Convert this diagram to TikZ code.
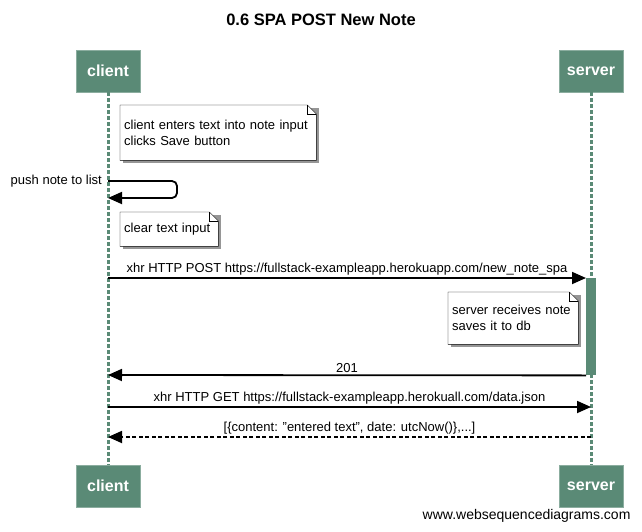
\documentclass[tikz,border=0pt]{standalone}
\usepackage{fontspec}
\setmainfont{Liberation Sans}
\usepackage{tikz}
\usetikzlibrary{calc, arrows.meta, backgrounds}

\definecolor{wsdgreen}{RGB}{90,138,118}
\definecolor{shadowgray}{RGB}{150,150,150}

\tikzset{
  actor/.style={draw=wsdgreen!70!white, fill=wsdgreen, text=white,
    minimum width=64, minimum height=42, inner sep=0,
    font=\fontsize{16}{16}\selectfont\bfseries},
  lifeline/.style={draw=wsdgreen, line width=3, dash pattern=on 4 off 2},
  actbar/.style={fill=wsdgreen, minimum width=10, minimum height=97, inner sep=0},
  note/.style={anchor=north west, align=left, inner sep=4,
    font=\fontsize{13}{16}\selectfont},
  msg/.style={line width=1.8, -{Triangle[length=14, width=12]}},
  reply/.style={msg, dash pattern=on 4 off 2.5},
  msglabel/.style={font=\fontsize{13}{13}\selectfont, inner sep=2}
}

\begin{document}
\begin{tikzpicture}[x=1pt, y=-1pt]
    %図の大きさを固定する
    \useasboundingbox (0,0) rectangle (642,532);
    \node[font=\fontsize{16.5}{16.5}\selectfont\bfseries] (title) at (321,20) {0.6 SPA POST New Note};
    %参加者の箱とライフライン
    \node[actor] (clientTop) at (108,71) {client};
    \node[actor] (serverTop) at (591,71) {server};
    \node[actor] (clientBot) at (108,486) {client};
    \node[actor] (serverBot) at (591,486) {server};
    \draw[lifeline] (clientTop) -- (clientBot);
    \draw[lifeline] (serverTop) -- (serverBot);
    %メモ
    \node[note, text width=188, minimum height=55] (n1) at (120,105)
      {client enters text into note input\\clicks Save button};
    \node[note, text width=90, minimum height=34] (n2) at (120,212) {clear text input};
    \node[note, text width=122, minimum height=52] (n3) at (448,292)
      {server receives note\\saves it to db};
    \begin{scope}[on background layer]
      \foreach \n in {n1,n2,n3} {
        \fill[shadowgray] ($(\n.north west)+(3,3)$) -| ($(\n.south east)+(3,3)$) -| cycle;
        \draw[fill=white] (\n.north west) -- ($(\n.north east)+(-9,0)$)
          -- ($(\n.north east)+(0,9)$) -- (\n.south east) -- (\n.south west) -- cycle;
        \draw ($(\n.north east)+(-9,0)$) |- ($(\n.north east)+(0,9)$);
      }
    \end{scope}
    %自分へのメッセージ
    \coordinate (p1) at (108,181);
    \coordinate (p2) at (108,198);
    \draw[msg, rounded corners=5] (p1) -- ++(69,0) |- (p2);
    \node[msglabel, anchor=east] (pushLbl) at ($(p1)+(-4,0)$) {push note to list};
    %サーバの活性化
    \node[actbar, anchor=north west] (act) at (586,278) {};
    \coordinate (c1) at (108,278);
    \coordinate (c2) at (108,375);
    \coordinate (c3) at (108,407);
    \coordinate (s3) at (591,407);
    \coordinate (c4) at (108,437);
    \coordinate (s4) at (591,437);
    \draw[msg] (c1) -- node[msglabel, above] (postLbl)
      {xhr HTTP POST https://fullstack-exampleapp.herokuapp.com/new\_note\_spa} (act.north west);
    \draw[msg] (act.south west) -- node[msglabel, above] (okLbl) {201} (c2);
    \draw[msg] (c3) -- node[msglabel, above] (getLbl)
      {xhr HTTP GET https://fullstack-exampleapp.herokuall.com/data.json} (s3);
    \draw[reply] (s4) -- node[msglabel, above] (jsonLbl)
      {[\{content: \symbol{34}entered text\symbol{34}, date: utcNow()\},...]} (c4);
    \node[anchor=east, font=\fontsize{14}{14}\selectfont] (credit) at (634,516)
      {www.websequencediagrams.com};
\end{tikzpicture}
\end{document}
